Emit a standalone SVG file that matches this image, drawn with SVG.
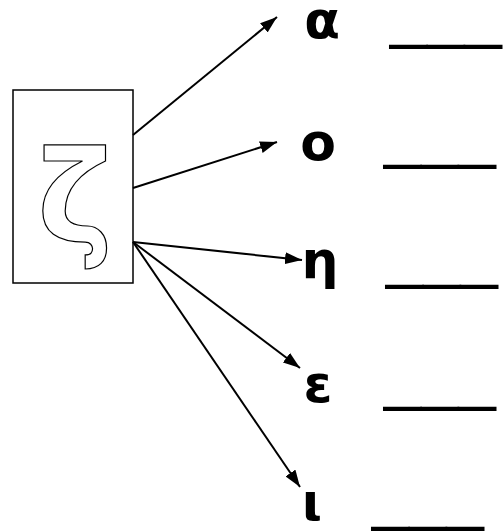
<svg xmlns="http://www.w3.org/2000/svg" width="504" height="532" viewBox="0 0 504 532">
<style>
.lbl{font-family:"DejaVu Sans",sans-serif;font-weight:bold;font-size:52px;fill:#000;text-anchor:middle}
.blank{font-family:"Liberation Sans",sans-serif;font-size:67px;fill:#000}
.conn{stroke:#000;stroke-width:2;fill:none;marker-end:url(#ah)}
</style>
<defs>
<marker id="ah" viewBox="0 0 10 10" refX="10" refY="5" markerWidth="17" markerHeight="12" markerUnits="userSpaceOnUse" orient="auto" preserveAspectRatio="none">
<path d="M0,0 L10,5 L0,10 z" fill="#000"/>
</marker>
</defs>
<rect width="504" height="532" fill="#fff"/>
<g id="card">
<rect x="13" y="90" width="120" height="193" fill="#fff" stroke="#000" stroke-width="1.5"/>
<text x="75" y="242" style="font-family:'DejaVu Sans',sans-serif;font-weight:bold;font-size:128px;fill:#fff;stroke:#000;stroke-width:1.2;text-anchor:middle">ζ</text>
</g>
<g id="connectors">
<line class="conn" x1="133" y1="135" x2="277" y2="17"/>
<line class="conn" x1="133" y1="188" x2="277" y2="142"/>
<line class="conn" x1="133" y1="242" x2="302" y2="260"/>
<line class="conn" x1="133" y1="242" x2="300" y2="368"/>
<line class="conn" x1="133" y1="242" x2="300" y2="487"/>
</g>
<g id="row-alpha">
<text class="lbl" x="322" y="38">α</text>
<text class="blank" x="390" y="36">___</text>
</g>
<g id="row-omicron">
<text class="lbl" x="318" y="160">ο</text>
<text class="blank" x="384" y="156">___</text>
</g>
<g id="row-eta">
<text class="lbl" x="320" y="278">η</text>
<text class="blank" x="386" y="276">___</text>
</g>
<g id="row-epsilon">
<text class="lbl" x="318" y="402">ε</text>
<text class="blank" x="384" y="398">___</text>
</g>
<g id="row-iota">
<text class="lbl" x="312" y="520">ι</text>
<text class="blank" x="372" y="518">___</text>
</g>
</svg>
